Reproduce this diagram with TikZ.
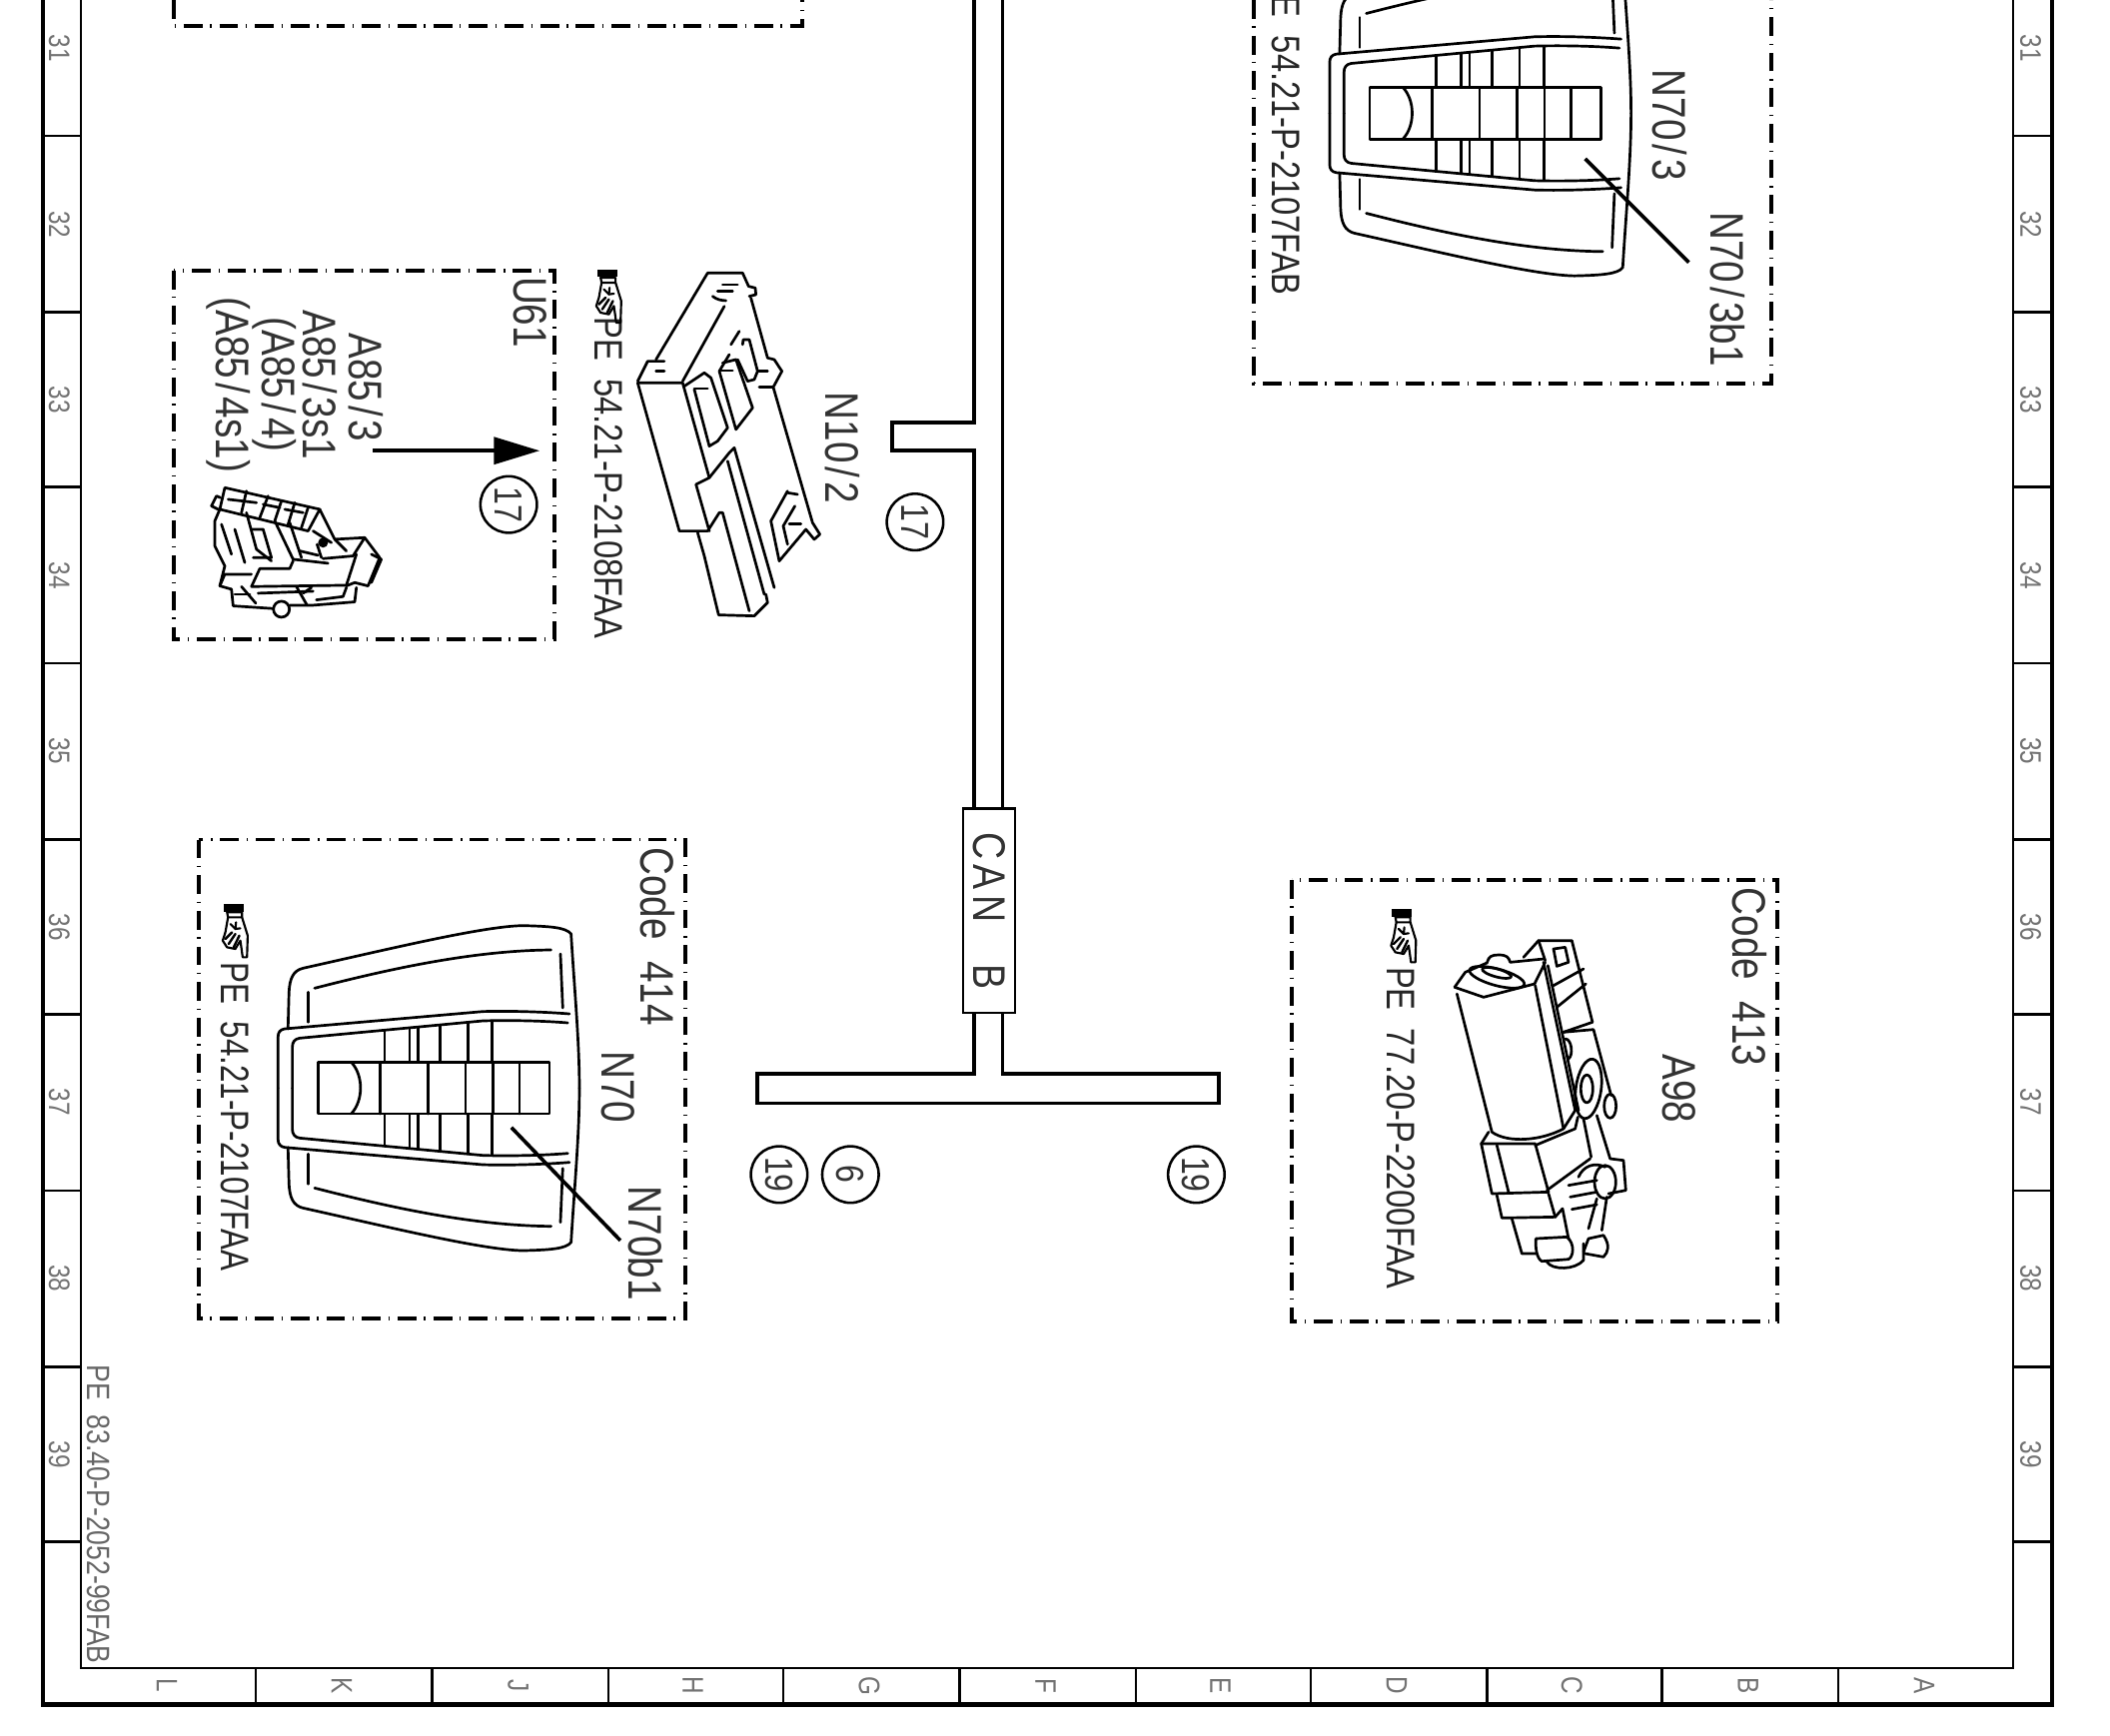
\documentclass[tikz,border=0pt]{standalone}
\usepackage{fontspec}
\usepackage{graphicx}
\usetikzlibrary{arrows.meta}
\newfontfamily\cadf[FakeStretch=0.82]{Liberation Sans}
\newcommand{\cadsize}[1]{\fontsize{#1}{#1}\selectfont\cadf}
\newcommand{\slsh}{\kern1.5pt/\kern1.5pt}
\tikzset{
  x=.5pt,y=-.5pt,
  lbig/.style={rotate=-90,inner sep=0pt,text=black!80,font=\cadsize{17.5}},
  lpe/.style={rotate=-90,inner sep=0pt,text=black!85,font=\cadsize{14.8}},
  lframe/.style={rotate=-90,inner sep=0pt,text=black!55,font=\cadsize{11}},
  lref/.style={rotate=-90,inner sep=0pt,text=black!60,font=\cadsize{12}},
  ringnode/.style={circle,draw=black,line width=.95pt,minimum size=21pt,inner sep=0pt,rotate=-90,text=black!80,font=\cadsize{14.5}},
  canbox/.style={draw=black,line width=.8pt,fill=white,minimum width=76pt,minimum height=19pt,inner sep=0pt,rotate=-90,text=black!80,font=\cadsize{17}},
  dashbox/.style={draw=black,line width=1.45pt,dash pattern=on 7pt off 2.8pt on .5pt off 2.95pt},
  frameO/.style={draw=black,line width=1.6pt},
  frameI/.style={draw=black,line width=.9pt},
  bus/.style={draw=black,line width=1.4pt},
  art/.style={draw=black,line width=1pt,line join=round,line cap=round},
  leader/.style={draw=black,line width=1.35pt},
  switchpic/.pic={
    \begin{scope}[scale=.2475]
    \foreach \m in {0,1}{
      \begin{scope}[shift={(0,1556*\m)},yscale=1-2*\m]
        \path[art] (1170,778) .. controls (1170,640) and (1155,480) .. (1145,315)
          .. controls (1130,295) and (1080,292) .. (1000,290)
          .. controls (880,292) and (600,360) .. (340,418)
          .. controls (310,425) and (300,450) .. (298,490) -- (295,600);
        \path[art] (355,490) -- (355,580);
        \path[art] (375,478) .. controls (600,420) and (850,365) .. (1085,363);
        \path[art] (1113,375) -- (1120,537);
        \path[art] (1140,555) .. controls (1050,548) and (950,546) .. (880,548)
          -- (285,600) .. controls (272,602) and (265,610) .. (265,625) -- (265,778);
        \path[art] (1135,582) .. controls (1050,575) and (950,574) .. (880,576)
          -- (330,628) .. controls (315,630) and (308,640) .. (308,655) -- (308,778);
        \path[art] (585,604) -- (585,700);
        \path[art] (660,597) -- (660,700);
        \path[art] (685,595) -- (685,700);
        \path[art] (752,589) -- (752,700);
        \path[art] (835,581) -- (835,700);
        \path[art] (908,578) -- (908,700);
      \end{scope}
    }
    \path[art] (385,700) rectangle (1080,855);
    \path[art] (485,700) .. controls (522,740) and (522,815) .. (485,855);
    \path[art] (572,700) -- (572,855);
    \path[art] (715,700) -- (715,855);
    \path[art] (828,700) -- (828,855);
    \path[art] (910,700) -- (910,855);
    \path[art] (990,700) -- (990,855);
    \end{scope}
  },
  handpic/.pic={
    \begin{scope}[scale=.2475,shift={(-58,-95)}]
    \fill[black] (25,15) rectangle (85,38);
    \path[art,line width=.8pt] (35,40) -- (80,40) -- (80,55) -- (38,55) -- cycle;
    \path[art,line width=.8pt] (38,55) -- (30,100) -- (22,125) -- (35,145) -- (60,150) -- (75,125) -- (82,175) -- (95,175) -- (97,110) -- (80,55);
    \path[art,line width=.9pt] (30,120) -- (50,100);
    \path[art,line width=.9pt] (40,135) -- (60,105);
    \path[art,line width=.9pt] (55,145) -- (72,110);
    \path[art,line width=.8pt] (45,75) -- (60,90) -- (75,88);
    \path[art,line width=.8pt] (62,70) -- (60,90);
    \end{scope}
  }
}
\begin{document}
\begin{tikzpicture}
\useasboundingbox (0,0) rectangle (1568,1290);
\clip (0,0) rectangle (1568,1290);
\fill[white] (0,0) rectangle (1568,1290);

% frame
\path[frameO] (32,0) -- (32,1267) -- (1525,1267) -- (1525,0);
\path[frameI] (60,0) -- (60,1240) -- (1496,1240) -- (1496,0);
\foreach \y in {101,232,362,493,624,754,885,1016,1146}{
  \path[frameI] (32,\y) -- (60,\y);
  \path[frameI] (1496,\y) -- (1525,\y);
}
\foreach \x in {190,321,452,582,713,844,974,1105,1235,1366}{
  \path[frameI] (\x,1240) -- (\x,1267);
}
\foreach \t/\y in {31/36,32/167,33/297,34/428,35/558,36/689,37/819,38/950,39/1081}{
  \node[lframe] (nl\t) at (44,\y) {\t};
  \node[lframe] (nr\t) at (1509,\y) {\t};
}
\foreach \t/\x in {L/124,K/254,J/385,H/515,G/646,F/777,E/907,D/1038,C/1168,B/1299,A/1430}{
  \node[lframe] (col\t) at (\x,1253) {\t};
}
\node[lref,anchor=east] (ref) at (73,1237) {PE\ \ 83.40-P-2052-99FAB};

% dash-dot boxes
\path[dashbox] (129,0) -- (129,19) -- (596,19) -- (596,0);
\path[dashbox] (129,201) rectangle (412,475);
\path[dashbox] (932,0) -- (932,285) -- (1316,285) -- (1316,0);
\path[dashbox] (148,624) rectangle (509,980);
\path[dashbox] (960,654) rectangle (1321,982);

% bus
\path[bus] (745,0) -- (745,601);
\path[bus] (724,0) -- (724,314) -- (663,314) -- (663,335) -- (724,335) -- (724,601);
\path[bus] (724,753) -- (724,798) -- (563,798) -- (563,820) -- (906,820) -- (906,798) -- (745,798) -- (745,753);
\node[canbox] (can) at (735,677) {C\kern2pt A\kern2pt N\ \ \ \ B};

% ref circles
\node[ringnode] (r17a) at (680,388) {17};
\node[ringnode] (r17b) at (378,375) {17};
\node[ringnode] (r19a) at (579,873) {19};
\node[ringnode] (r6) at (632,873) {6};
\node[ringnode] (r19b) at (889,873) {19};

% labels
\node[lbig] (u61) at (394,232) {U61};
\node[lbig] (a1) at (272,288) {A85\slsh 3};
\node[lbig] (a2) at (238,286) {A85\slsh 3s1};
\node[lbig] (a3) at (204,286) {(A85\slsh 4)};
\node[lbig] (a4) at (170,286) {(A85\slsh 4s1)};
\node[lbig] (n102) at (626,333) {N10\slsh 2};
\node[lbig] (c414) at (489,696) {Code\ \ 414};
\node[lbig] (n70) at (459,808) {N70};
\node[lbig] (n70b1) at (480,924) {N70b1};
\node[lbig] (c413) at (1300,726) {Code\ \ 413};
\node[lbig] (a98) at (1248,809) {A98};
\node[lbig] (n703) at (1241,93) {N70\slsh 3};
\node[lbig] (n703b1) at (1284,215) {N70\slsh 3b1};

\node[lpe,anchor=east] (pe1) at (452,475) {PE\ \ 54.21-P-2108FAA};
\node[lpe,anchor=east] (pe2) at (956,220) {PE\ \ 54.21-P-2107FAB};
\node[lpe,anchor=east] (pe3) at (175,945) {\scalebox{.96}[1]{PE\ \ 54.21-P-2107FAA}};
\node[lpe,anchor=east] (pe4) at (1041,958) {PE\ \ 77.20-P-2200FAA};

% hands
\pic at (452,220) {handpic};
\pic at (174.4,691.7) {handpic};
\pic at (1042.6,695.4) {handpic};

% switches
\pic at (141,616.2) {switchpic};
\pic at (922.5,-108.3) {switchpic};
\coordinate (l1a) at (380,838); \coordinate (l1b) at (461,922);
\coordinate (l2a) at (1178,118); \coordinate (l2b) at (1255,195);
\path[leader] (l1a) -- (l1b);
\path[leader] (l2a) -- (l2b);

% arrow
\coordinate (ar1) at (277,335); \coordinate (ar2) at (401,335);
\draw[line width=1.35pt,-{Triangle[length=17pt,width=10pt]}] (ar1) -- (ar2);

% N10/2 module
\begin{scope}[shift={(467.7,196.7)},scale=.2475]
\path[art] (80,285) -- (235,25) -- (340,25) -- (358,65) -- (378,70) -- (380,90) -- (360,95);
\path[art] (365,100) -- (415,280) -- (435,285) -- (458,320) -- (432,368) -- (550,775) -- (572,810) -- (555,825) -- (530,795) -- (450,890);
\path[art] (25,350) -- (40,320) -- (55,290) -- (105,290);
\path[art] (80,320) -- (105,320);
\path[art] (25,355) -- (150,800) -- (235,800) -- (270,745) -- (280,745) -- (360,1040);
\path[art] (25,355) -- (160,355) -- (240,640) -- (200,660) -- (240,800);
\path[art] (160,350) -- (285,125);
\path[art] (240,640) -- (300,565) -- (315,550) -- (435,970);
\path[art] (295,590) -- (405,990);
\path[art] (205,805) -- (225,875) -- (268,1052) -- (375,1055) -- (415,1015) -- (410,990);
\path[art] (165,365) -- (225,325) -- (245,340) -- (295,490) -- (265,530) -- (240,545) -- (195,375);
\path[art] (195,372) -- (235,372);
\path[art] (270,320) -- (300,270);
\path[art] (280,295) -- (320,285) -- (370,430) -- (320,495) -- (270,320);
\path[art] (275,318) -- (310,318);
\path[art] (305,240) -- (330,200);
\path[art] (340,240) -- (342,225) -- (360,225) -- (385,320) -- (375,345) -- (355,350);
\path[art] (325,285) -- (355,350);
\path[art] (385,320) -- (415,320);
\path[art] (390,368) -- (430,368);
\path[art] (280,60) -- (325,60);
\path[art] (265,80) -- (310,80);
\path[art] (250,95) .. controls (262,105) and (278,108) .. (290,108);
\path[art] (475,680) -- (425,770) -- (450,890);
\path[art] (475,685) -- (505,690);
\path[art] (497,725) -- (462,785) -- (475,840);
\path[art] (480,778) -- (515,778);
\end{scope}

% A85 connector
\begin{scope}[shift={(148.5,356.3)},scale=.2475]
\path[art] (60,90) -- (75,25) -- (360,90) -- (325,155) -- cycle;
\path[art] (35,80) -- (50,50) -- (62,55);
\path[art] (35,80) -- (55,90);
\path[art] (140,35) -- (125,100);
\path[art] (205,50) -- (180,115);
\path[art] (245,65) -- (225,125);
\path[art] (285,70) -- (265,135);
\path[art] (325,85) -- (305,145);
\path[art] (85,60) -- (170,70);
\path[art] (190,75) -- (240,85);
\path[art] (255,90) -- (310,100);
\path[art] (60,90) -- (45,125) -- (45,200) -- (75,260) -- (60,320) -- (95,330);
\path[art] (65,135) -- (95,225);
\path[art] (105,150) -- (135,250);
\path[art] (140,100) -- (170,210) -- (215,245);
\path[art] (155,150) -- (190,150) -- (215,235) -- (160,235);
\path[art] (225,125) -- (280,240) -- (385,252);
\path[art] (270,130) -- (305,235);
\path[art] (300,215) -- (355,228);
\path[art] (360,90) -- (405,180) -- (495,175) -- (540,235) -- (505,320) -- (465,310) -- (440,320);
\path[art] (340,155) -- (395,190);
\fill (370,190) circle [radius=15];
\path[art] (365,235) -- (352,195);
\path[art] (405,180) -- (440,215);
\path[art] (370,238) -- (460,230) -- (495,175);
\path[art] (470,225) -- (440,318) -- (155,322) -- (180,268) -- (270,268) -- (280,245);
\path[art] (515,225) -- (545,240) -- (515,310);
\path[art] (60,320) -- (75,285) -- (155,285);
\path[art] (95,330) -- (100,380) -- (220,388);
\path[art] (270,378) -- (340,378) -- (465,368) -- (470,325);
\path[art] (245,390) circle [radius=24];
\path[art] (175,342) -- (340,336);
\path[art] (290,322) -- (322,378);
\path[art] (310,342) -- (335,325);
\path[art] (125,322) -- (168,372);
\path[art] (105,345) -- (150,345);
\path[art] (350,362) -- (430,352) -- (440,325);
\end{scope}

% A98 actuator
\begin{scope}[shift={(957.7,645.9)},scale=.2475]
\path[art] (498,355) -- (530,310) -- (595,282) .. controls (600,262) and (610,258) .. (630,258) .. controls (655,258) and (660,265) .. (665,280) -- (765,270);
\path[art] (498,355) -- (585,385) -- (738,345) -- (770,280);
\path[art,rotate around={-15:(625,325)}] (625,325) ellipse [x radius=85,y radius=25];
\path[art,rotate around={-15:(625,310)}] (625,312) ellipse [x radius=45,y radius=12];
\path[art] (505,375) -- (610,790) .. controls (660,825) and (760,815) .. (825,780) -- (740,350);
\path[art] (765,280) -- (860,725) -- (825,780);
\path[art] (778,290) -- (870,725);
\path[art] (705,265) -- (750,215) -- (850,215) -- (912,460) -- (825,490);
\path[art] (750,215) -- (770,275);
\path[art] (795,240) -- (830,235) -- (840,280) -- (805,292) -- cycle;
\path[art] (795,350) -- (885,300);
\path[art] (805,415) -- (892,345);
\path[art] (825,490) -- (915,482) -- (968,680);
\path[art] (830,510) .. controls (850,510) and (855,560) .. (840,570);
\path[art,rotate around={-8:(900,660)}] (900,660) ellipse [x radius=38,y radius=90];
\path[art] (895,660) ellipse [x radius=18,y radius=42];
\path[art] (965,712) ellipse [x radius=18,y radius=36];
\path[art] (925,740) -- (965,870) -- (1005,875) -- (1012,965) -- (960,975);
\path[art] (885,750) -- (908,865);
\path[art] (578,825) -- (610,975) -- (780,970) -- (740,825) -- cycle;
\path[art] (625,830) -- (660,970);
\path[art] (740,830) -- (860,780) -- (868,745);
\path[art] (775,965) -- (905,870);
\path[art] (578,825) -- (600,790);
\path[art] (625,980) -- (640,1048) -- (800,1045) -- (780,975);
\path[art] (670,1050) -- (700,1155) -- (745,1155);
\path[art] (800,1045) -- (822,1020) -- (840,1110);
\path[art] (742,1110) -- (835,1105) .. controls (860,1125) and (855,1165) .. (840,1172) -- (760,1178) .. controls (745,1170) and (740,1140) .. (742,1110);
\path[art] (775,1180) .. controls (790,1205) and (860,1205) .. (885,1175) -- (885,1125);
\path[art] (885,1150) -- (900,1110) -- (945,1100) .. controls (965,1130) and (960,1150) .. (945,1165) -- (890,1155);
\path[art] (840,950) -- (925,935);
\path[art] (845,985) -- (925,970);
\path[art] (850,1022) -- (925,1008);
\path[art] (870,925) .. controls (885,890) and (920,880) .. (950,895);
\path[art] (950,940) ellipse [x radius=32,y radius=50];
\path[art] (900,1080) -- (925,990);
\path[art] (940,1085) -- (955,985);
\end{scope}
\end{tikzpicture}
\end{document}
